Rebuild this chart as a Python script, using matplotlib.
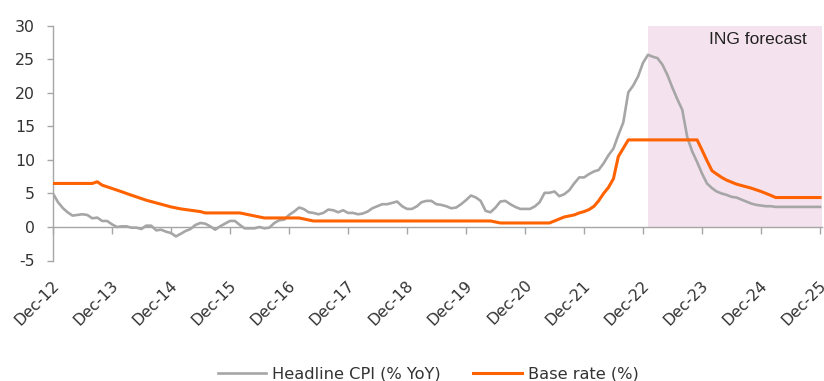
import matplotlib
matplotlib.use("Agg")
import matplotlib.pyplot as plt
import pandas as pd

plt.rcParams["font.family"] = ["DejaVu Sans"]
plt.rcParams["axes.unicode_minus"] = False

# Monthly observations, Dec-2012 .. Dec-2025
months = pd.date_range("2012-12-01", "2025-12-01", freq="MS")

# Headline CPI, % YoY (Dec-12, then Jan..Dec of each year)
cpi = (
    [5.0]
    + [3.7, 2.8, 2.2, 1.7, 1.8, 1.9, 1.8, 1.3, 1.4, 0.9, 0.9, 0.4]          # 2013
    + [0.0, 0.1, 0.1, -0.1, -0.1, -0.3, 0.2, 0.2, -0.5, -0.4, -0.7, -0.9]   # 2014
    + [-1.4, -1.0, -0.6, -0.3, 0.3, 0.6, 0.5, 0.1, -0.4, 0.1, 0.5, 0.9]     # 2015
    + [0.9, 0.3, -0.2, -0.2, -0.2, 0.0, -0.2, -0.1, 0.6, 1.0, 1.1, 1.8]     # 2016
    + [2.3, 2.9, 2.7, 2.2, 2.1, 1.9, 2.1, 2.6, 2.5, 2.2, 2.5, 2.1]          # 2017
    + [2.1, 1.9, 2.0, 2.3, 2.8, 3.1, 3.4, 3.4, 3.6, 3.8, 3.1, 2.7]          # 2018
    + [2.7, 3.1, 3.7, 3.9, 3.9, 3.4, 3.3, 3.1, 2.8, 2.9, 3.4, 4.0]          # 2019
    + [4.7, 4.4, 3.9, 2.4, 2.2, 2.9, 3.8, 3.9, 3.4, 3.0, 2.7, 2.7]          # 2020
    + [2.7, 3.1, 3.7, 5.1, 5.1, 5.3, 4.6, 4.9, 5.5, 6.5, 7.4, 7.4]          # 2021
    + [7.9, 8.3, 8.5, 9.5, 10.7, 11.7, 13.7, 15.6, 20.1, 21.1, 22.5, 24.5]  # 2022
    + [25.7, 25.4, 25.2, 24.2, 22.7, 20.8, 19.1, 17.5, 13.4, 11.3, 9.7, 8.0]  # 2023
    + [6.5, 5.8, 5.3, 5.0, 4.8, 4.5, 4.4, 4.1, 3.8, 3.5, 3.3, 3.2]          # 2024
    + [3.1, 3.1, 3.0, 3.0, 3.0, 3.0, 3.0, 3.0, 3.0, 3.0, 3.0, 3.0]          # 2025
)

# Central bank base rate, %
base_rate = (
    [6.5]
    + [6.5, 6.5, 6.5, 6.5, 6.5, 6.5, 6.5, 6.5, 6.75, 6.25, 6.0, 5.75]       # 2013
    + [5.5, 5.25, 5.0, 4.75, 4.5, 4.25, 4.0, 3.8, 3.6, 3.4, 3.2, 3.0]       # 2014
    + [2.85, 2.7, 2.6, 2.5, 2.4, 2.3, 2.1, 2.1, 2.1, 2.1, 2.1, 2.1]         # 2015
    + [2.1, 2.1, 1.95, 1.8, 1.65, 1.5, 1.35, 1.35, 1.35, 1.35, 1.35, 1.35]  # 2016
    + [1.35, 1.35, 1.2, 1.05, 0.9, 0.9, 0.9, 0.9, 0.9, 0.9, 0.9, 0.9]       # 2017
    + [0.9, 0.9, 0.9, 0.9, 0.9, 0.9, 0.9, 0.9, 0.9, 0.9, 0.9, 0.9]         # 2018
    + [0.9, 0.9, 0.9, 0.9, 0.9, 0.9, 0.9, 0.9, 0.9, 0.9, 0.9, 0.9]         # 2019
    + [0.9, 0.9, 0.9, 0.9, 0.9, 0.75, 0.6, 0.6, 0.6, 0.6, 0.6, 0.6]        # 2020
    + [0.6, 0.6, 0.6, 0.6, 0.6, 0.9, 1.2, 1.5, 1.65, 1.8, 2.1, 2.3]        # 2021
    + [2.6, 3.1, 3.9, 5.0, 5.9, 7.2, 10.5, 11.75, 13.0, 13.0, 13.0, 13.0]  # 2022
    + [13.0, 13.0, 13.0, 13.0, 13.0, 13.0, 13.0, 13.0, 13.0, 13.0, 13.0, 11.5]  # 2023
    + [9.9, 8.4, 7.9, 7.4, 7.0, 6.7, 6.4, 6.2, 6.0, 5.8, 5.55, 5.3]        # 2024
    + [5.0, 4.7, 4.4, 4.4, 4.4, 4.4, 4.4, 4.4, 4.4, 4.4, 4.4, 4.4]         # 2025
)

tick_dates = pd.date_range("2012-12-01", "2025-12-01", freq="12MS")
tick_labels = ["Dec-12", "Dec-13", "Dec-14", "Dec-15", "Dec-16", "Dec-17", "Dec-18",
               "Dec-19", "Dec-20", "Dec-21", "Dec-22", "Dec-23", "Dec-24", "Dec-25"]
y_ticks = [-5, 0, 5, 10, 15, 20, 25, 30]
forecast_start = pd.Timestamp("2023-01-01")
x_end = pd.Timestamp("2025-12-13")

GREY = "#a6a6a6"
ORANGE = "#ff6200"
SHADE = "#f4e3ee"
AXIS = "#a6a6a6"
TEXT = "#333333"

W, H = 824, 381
fig = plt.figure(figsize=(W / 100, H / 100), dpi=100)
ax = fig.add_axes([53 / W, 1 - 260.5 / H, (822 - 53) / W, (260.5 - 26) / H])

ax.set_xlim(months[0], x_end)
ax.set_ylim(-5, 30)

# forecast band sits above the zero line only
ax.fill_between([forecast_start, x_end], 0, 30, color=SHADE, lw=0, zorder=0)
ax.plot(months, cpi, color=GREY, lw=1.9, label="Headline CPI (% YoY)", zorder=3,
        solid_joinstyle="round")
ax.plot(months, base_rate, color=ORANGE, lw=2.2, label="Base rate (%)", zorder=4,
        solid_joinstyle="round")

ax.set_yticks(y_ticks)
ax.set_yticklabels([str(v) for v in y_ticks])

for side in ("top", "right"):
    ax.spines[side].set_visible(False)
ax.spines["left"].set_color(AXIS)
ax.spines["left"].set_linewidth(1.0)
ax.spines["bottom"].set_position(("data", 0))
ax.spines["bottom"].set_color(AXIS)
ax.spines["bottom"].set_linewidth(1.0)
ax.spines["bottom"].set_zorder(5)

ax.tick_params(axis="y", direction="out", length=4, width=1, color=AXIS,
               labelsize=11.3, labelcolor=TEXT, pad=9)
ax.set_xticks(tick_dates)
ax.set_xticklabels([])
ax.tick_params(axis="x", direction="out", length=5, width=1, color=AXIS)

for d, lab in zip(tick_dates, tick_labels):
    ax.annotate(lab, xy=(d, 0), xycoords=("data", "axes fraction"),
                xytext=(-1, -17), textcoords="offset pixels",
                rotation=45, rotation_mode="anchor", ha="right", va="top",
                fontsize=11.3, color=TEXT, annotation_clip=False)

ax.text((807 - 53) / (822 - 53), (260.5 - 40) / (260.5 - 26),
        "ING forecast", transform=ax.transAxes, ha="right", va="center",
        fontsize=12.5, family=["Liberation Sans"], color="#222222")

fig.legend(loc="center", bbox_to_anchor=(428 / W, 1 - 374 / H), ncol=2,
           frameon=False, fontsize=11.7, handlelength=3.0, handletextpad=0.35,
           columnspacing=2.0, labelcolor=TEXT)

fig.savefig("out.png", dpi=100)
